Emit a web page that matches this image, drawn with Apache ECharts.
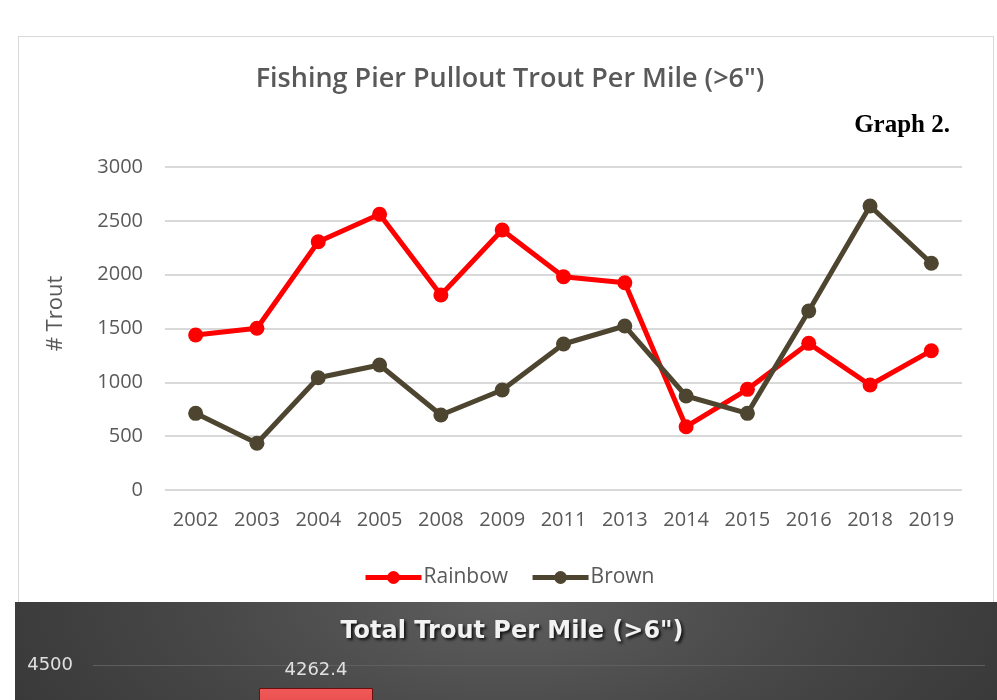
<!DOCTYPE html>
<html>
<head>
<meta charset="utf-8">
<title>Fishing Pier Pullout Trout Per Mile</title>
<script src="https://cdn.jsdelivr.net/npm/echarts@6/dist/echarts.min.js"></script>
<style>
    html, body {
        margin: 0;
        padding: 0;
        width: 997px;
        height: 700px;
        overflow: hidden;
        background: #fff;
    }
    .frame {
        position: absolute;
        left: 18px;
        top: 36px;
        width: 974px;
        height: 570px;
        border: 1px solid #d9d9d9;
    }
    #main {
        position: absolute;
        left: 0;
        top: 0;
        width: 997px;
        height: 602px;
    }
    .total-box {
        position: absolute;
        left: 15px;
        top: 602px;
        width: 982px;
        height: 520px;
        background: radial-gradient(ellipse 70% 60% at 50% 0%, #5e5e5e 0%, #474747 45%, #303030 100%);
    }
    #total {
        width: 982px;
        height: 520px;
    }
</style>
</head>
<body>
<div class="frame"></div>
<div id="main"></div>
<div class="total-box"><div id="total"></div></div>

<script>
// 年份
var years = ['2002', '2003', '2004', '2005', '2008', '2009', '2011', '2013', '2014', '2015', '2016', '2018', '2019']
// 每英里鳟鱼数量 (>6")
var rainbow = [1440, 1502, 2306, 2561, 1811, 2415, 1981, 1925, 588, 935, 1362, 975, 1294]
var brown = [712, 434, 1043, 1161, 697, 929, 1356, 1523, 873, 712, 1662, 2638, 2106]

// 下面那张总数柱状图 (只露出顶部)
var totalCats = ['Rainbow', 'Brown']
var totalVals = [4262.4, null]

var font = 'Open Sans'
var gray = '#595959'

var myChart = echarts.init(document.getElementById('main'))
myChart.setOption({
    animation: false,
    title: [{
        text: 'Fishing Pier Pullout Trout Per Mile (>6")',
        left: 505,
        top: 61,
        textAlign: 'center',
        textStyle: { color: gray, fontFamily: font, fontSize: 27, fontWeight: 600 }
    }, {
        text: 'Graph 2.',
        right: 42,
        top: 108,
        textStyle: { color: '#000', fontFamily: 'Liberation Serif', fontSize: 25, fontWeight: 'bold' }
    }],
    legend: {
        data: ['Rainbow', 'Brown'],
        left: 358,
        top: 562,
        itemWidth: 56,
        itemHeight: 16,
        itemGap: 22,
        lineStyle: { width: 5 },
        textStyle: { color: gray, fontFamily: font, fontSize: 21, padding: [0, 0, 0, -3] }
    },
    grid: {
        left: 165,
        right: 35,
        top: 167,
        bottom: 112
    },
    xAxis: {
        type: 'category',
        data: years,
        boundaryGap: true,
        axisLine: { show: false },
        axisTick: { show: false },
        axisLabel: { color: gray, fontFamily: font, fontSize: 20, margin: 20 }
    },
    yAxis: {
        type: 'value',
        min: 0,
        max: 3000,
        interval: 500,
        name: '# Trout',
        nameLocation: 'middle',
        nameGap: 98,
        nameTextStyle: { color: gray, fontFamily: font, fontSize: 22, padding: [0, 0, 0, 30] },
        axisLabel: {
            color: gray, fontFamily: font, fontSize: 20, margin: 22,
            formatter: function (v) { return String(v) }
        },
        splitLine: { lineStyle: { color: '#d9d9d9', width: 2 } }
    },
    series: [{
        name: 'Rainbow',
        type: 'line',
        data: rainbow,
        symbol: 'circle',
        symbolSize: 15,
        itemStyle: { color: '#ff0000' },
        lineStyle: { color: '#ff0000', width: 5 }
    }, {
        name: 'Brown',
        type: 'line',
        data: brown,
        symbol: 'circle',
        symbolSize: 15,
        itemStyle: { color: '#4d4530' },
        lineStyle: { color: '#4d4530', width: 5 }
    }]
})

var totalChart = echarts.init(document.getElementById('total'))
totalChart.setOption({
    animation: false,
    title: {
        text: 'Total Trout Per Mile (>6")',
        left: 492,
        top: 13,
        textAlign: 'center',
        textStyle: {
            color: '#f2f2f2',
            fontFamily: 'DejaVu Sans',
            fontSize: 24,
            fontWeight: 'bold',
            textShadowColor: 'rgba(0,0,0,0.8)',
            textShadowBlur: 3,
            textShadowOffsetX: 2,
            textShadowOffsetY: 2
        }
    },
    grid: {
        left: 78,
        right: 12,
        top: 63,
        bottom: 21
    },
    xAxis: {
        type: 'category',
        data: totalCats,
        axisLine: { show: false },
        axisTick: { show: false },
        axisLabel: { show: false }
    },
    yAxis: {
        type: 'value',
        min: 0,
        max: 4500,
        interval: 500,
        axisLabel: {
            color: '#e0e0e0', fontFamily: 'DejaVu Sans', fontSize: 18, margin: 20,
            formatter: function (v) { return String(v) }
        },
        splitLine: { lineStyle: { color: '#5f5f5f', width: 1 } }
    },
    series: [{
        type: 'bar',
        data: totalVals,
        barWidth: 114,
        itemStyle: {
            color: new echarts.graphic.LinearGradient(0, 0, 0, 1, [
                { offset: 0, color: '#f05a5a' },
                { offset: 0.15, color: '#dd2a2a' },
                { offset: 1, color: '#b81c1c' }
            ]),
            borderColor: '#6e0e0e',
            borderWidth: 1
        },
        label: {
            show: true,
            position: 'top',
            distance: 9,
            color: '#e0e0e0',
            fontFamily: 'DejaVu Sans',
            fontSize: 18
        }
    }]
})
</script>
</body>
</html>
